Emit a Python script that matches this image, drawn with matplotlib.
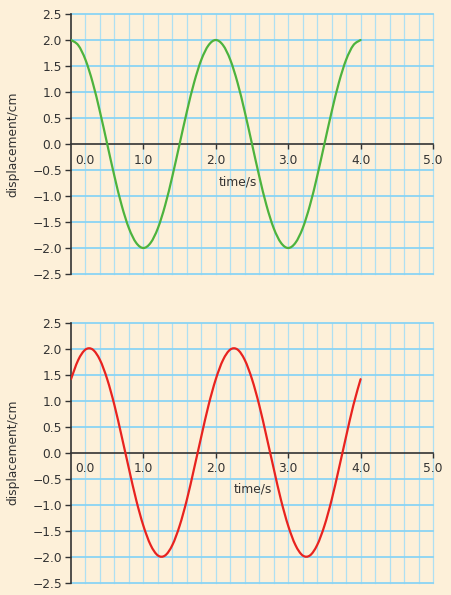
import numpy as np
import matplotlib
matplotlib.use("Agg")
import matplotlib.pyplot as plt
from matplotlib.path import Path
from matplotlib.patches import PathPatch
from matplotlib.transforms import ScaledTranslation

# ---- data ----
time_s = [0.0, 0.1, 0.2, 0.3, 0.4, 0.5, 0.6, 0.7, 0.8, 0.9, 1.0,
          1.1, 1.2, 1.3, 1.4, 1.5, 1.6, 1.7, 1.8, 1.9, 2.0,
          2.1, 2.2, 2.3, 2.4, 2.5, 2.6, 2.7, 2.8, 2.9, 3.0,
          3.1, 3.2, 3.3, 3.4, 3.5, 3.6, 3.7, 3.8, 3.9, 4.0]
green_disp = [2.00, 1.90, 1.62, 1.18, 0.62, 0.00, -0.62, -1.18, -1.62, -1.90, -2.00,
              -1.90, -1.62, -1.18, -0.62, 0.00, 0.62, 1.18, 1.62, 1.90, 2.00,
              1.90, 1.62, 1.18, 0.62, 0.00, -0.62, -1.18, -1.62, -1.90, -2.00,
              -1.90, -1.62, -1.18, -0.62, 0.00, 0.62, 1.18, 1.62, 1.90, 2.00]
red_disp = [1.41, 1.78, 1.98, 1.98, 1.78, 1.41, 0.91, 0.31, -0.31, -0.91, -1.41,
            -1.78, -1.98, -1.98, -1.78, -1.41, -0.91, -0.31, 0.31, 0.91, 1.41,
            1.78, 1.98, 1.98, 1.78, 1.41, 0.91, 0.31, -0.31, -0.91, -1.41,
            -1.78, -1.98, -1.98, -1.78, -1.41, -0.91, -0.31, 0.31, 0.91, 1.41]
x_ticks = [0.0, 1.0, 2.0, 3.0, 4.0, 5.0]
x_ticklabels = ["0.0", "1.0", "2.0", "3.0", "4.0", "5.0"]
y_ticks = [-2.5, -2.0, -1.5, -1.0, -0.5, 0.0, 0.5, 1.0, 1.5, 2.0, 2.5]
y_ticklabels = ["\u22122.5", "\u22122.0", "\u22121.5", "\u22121.0", "\u22120.5",
                "0.0", "0.5", "1.0", "1.5", "2.0", "2.5"]
x_minor = [0.2, 0.4, 0.6, 0.8, 1.2, 1.4, 1.6, 1.8, 2.2, 2.4, 2.6, 2.8,
           3.2, 3.4, 3.6, 3.8, 4.2, 4.4, 4.6, 4.8]
xlabel = "time/s"
ylabel = "displacement/cm"

BG = "#fdf0d9"
GRID_H = "#8ad4f4"
GRID_V = "#aee0f2"
DARK = "#333333"
FS = 8.8

plt.rcParams["font.family"] = ["DejaVu Sans"]


def smooth_path(xs, ys):
    p = np.column_stack([xs, ys]).astype(float)
    n = len(p)
    verts = [tuple(p[0])]
    codes = [Path.MOVETO]
    for i in range(n - 1):
        p0 = p[max(i - 1, 0)]
        p1 = p[i]
        p2 = p[i + 1]
        p3 = p[min(i + 2, n - 1)]
        c1 = p1 + (p2 - p0) / 6.0
        c2 = p2 - (p3 - p1) / 6.0
        verts += [tuple(c1), tuple(c2), tuple(p2)]
        codes += [Path.CURVE4] * 3
    return Path(verts, codes)


fig = plt.figure(figsize=(4.52, 5.95), dpi=100, facecolor=BG)

W, H = 452.0, 595.0
left = 71 / W
width = (433 - 71) / W
panels = [
    (14, 274, green_disp, "#4db33d", (2.31, -0.73)),
    (322.5, 582.5, red_disp, "#e8231f", (2.51, -0.71)),
]

for top_px, bot_px, disp, color, lblpos in panels:
    ax = fig.add_axes([left, (H - bot_px) / H, width, (bot_px - top_px) / H])
    ax.set_facecolor(BG)
    ax.set_xlim(0, 5)
    ax.set_ylim(-2.5, 2.5)

    # grid
    for yv in y_ticks:
        if yv != 0.0:
            ax.axhline(yv, color=GRID_H, lw=1.3, zorder=1, clip_on=False)
    for xv in x_minor + x_ticks[1:]:
        ax.axvline(xv, color=GRID_V, lw=0.9, zorder=0.9, clip_on=False)

    # spines
    for s in ["top", "right"]:
        ax.spines[s].set_visible(False)
    ax.spines["left"].set_color(DARK)
    ax.spines["left"].set_linewidth(1.2)
    ax.spines["bottom"].set_position(("data", 0))
    ax.spines["bottom"].set_color(DARK)
    ax.spines["bottom"].set_linewidth(1.2)
    ax.spines["left"].set_zorder(3)
    ax.spines["bottom"].set_zorder(3)

    ax.set_yticks(y_ticks)
    ax.set_yticklabels(y_ticklabels)
    ax.set_xticks(x_ticks)
    ax.set_xticklabels(x_ticklabels)
    ax.tick_params(axis="y", direction="out", length=4.5, width=1.0, color=DARK,
                   labelsize=FS, labelcolor=DARK, pad=2.0)
    ax.tick_params(axis="x", direction="out", length=3.5, width=1.0, color=DARK,
                   labelsize=FS, labelcolor=DARK, pad=3.5)
    xt = ax.get_xticklines()
    xt[0].set_visible(False)
    lab0 = ax.get_xticklabels()[0]
    lab0.set_transform(lab0.get_transform() + ScaledTranslation(0.14, 0, fig.dpi_scale_trans))

    path = smooth_path(time_s, disp)
    patch = PathPatch(path, facecolor="none", edgecolor=color, lw=1.6,
                      transform=ax.transData, zorder=4, capstyle="round")
    ax.add_patch(patch)

    ax.text(lblpos[0], lblpos[1], xlabel, ha="center", va="center",
            fontsize=FS, color=DARK, zorder=5)
    ax.set_ylabel(ylabel, fontsize=FS, color=DARK)
    ax.yaxis.set_label_coords(-0.143, 0.5)

fig.savefig("out.png", dpi=100, facecolor=BG)
